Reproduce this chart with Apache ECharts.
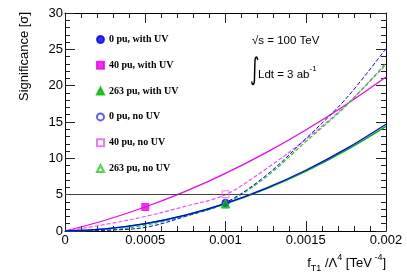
<!DOCTYPE html>
<html><head><meta charset="utf-8">
<script src="https://cdn.jsdelivr.net/npm/echarts@6/dist/echarts.min.js"></script>
<style>html,body{margin:0;padding:0;background:#fff}#c{width:407px;height:276px}</style>
</head><body><div id="c"></div>
<script>
// x values (f_T1/Lambda^4 in TeV^-4)
const fValues   = [0, 0.00025, 0.0005, 0.00075, 0.001, 0.00125, 0.0015, 0.00175, 0.002];
// significance curves
const pu0UV     = [0, 0.28, 1.0, 2.18, 3.8, 5.86, 8.36, 11.3, 14.7];
const pu263UV   = [0, 0.29, 1.01, 2.17, 3.75, 5.77, 8.21, 11.09, 14.4];
const pu40UV    = [0, 1.48, 3.3, 5.45, 7.93, 10.75, 13.9, 17.39, 21.2];
const pu0NoUV   = [0, 0.1, 0.5, 2.0, 3.9, 7.6, 12.7, 18.2, 25.1];
const pu40NoUV  = [0, 0.9, 2.0, 3.4, 5.0, 8.5, 12.6, 17.3, 22.9];
const pu263NoUV = [0, 0.1, 0.8, 2.1, 3.8, 7.4, 12.3, 17.2, 23.1];
// marker points
const legendNames = ['0 pu, with UV', '40 pu, with UV', '263 pu, with UV', '0 pu, no UV', '40 pu, no UV', '263 pu, no UV'];
const markerX = [0.001, 0.0005, 0.001, 0.001, 0.001, 0.001];
const markerY = [3.85, 3.3, 3.7, 3.9, 5.05, 3.8];
const thresholdY = 5;
const xTickLabels = ['0', '0.0005', '0.001', '0.0015', '0.002'];
const yTickLabels = ['0', '5', '10', '15', '20', '25', '30'];

const BLUE = '#0000ff', MAG = '#ee00ee', GRN = '#00b400', GRN2 = '#22cc22';
const pairs = arr => fValues.map((f, i) => [f, arr[i]]);

const chart = echarts.init(document.getElementById('c'));
const tickStyle = {color: '#222', width: 1};
function xAx(pos, showLabel) {
  return {
    type: 'value', min: 0, max: 0.002, interval: 0.0005, position: pos,
    axisLine: {show: true, onZero: false, lineStyle: {color: '#000', width: 1}},
    axisTick: {show: true, inside: true, length: 10, lineStyle: tickStyle},
    minorTick: {show: true, splitNumber: 5, length: 5, lineStyle: tickStyle},
    splitLine: {show: false},
    axisLabel: {show: showLabel, margin: 3, fontSize: 13, fontFamily: 'Liberation Sans', color: '#000',
      showMinLabel: true, showMaxLabel: true, formatter: (v, i) => xTickLabels[i]}
  };
}
function yAx(pos, showLabel) {
  return {
    type: 'value', min: 0, max: 30, interval: 5, position: pos,
    axisLine: {show: true, onZero: false, lineStyle: {color: '#000', width: 1}},
    axisTick: {show: true, inside: true, length: 10, lineStyle: tickStyle},
    minorTick: {show: true, splitNumber: 5, length: 5, lineStyle: tickStyle},
    splitLine: {show: false},
    axisLabel: {show: showLabel, margin: 2, fontSize: 13, fontFamily: 'Liberation Sans', color: '#000',
      formatter: (v, i) => yTickLabels[i]}
  };
}
function curve(data, color, dashed, width, z) {
  return {type: 'line', data: pairs(data), smooth: 0.35, symbol: 'none', silent: true, z: z || 2,
    lineStyle: {color: color, width: width || 1.2, type: dashed ? [4, 2] : 'solid'}};
}
const markerDefs = [
  {symbol: 'circle', size: 7, fill: BLUE, border: BLUE},
  {symbol: 'rect', size: 7, fill: MAG, border: MAG},
  {symbol: 'triangle', size: 8, fill: GRN, border: GRN},
  {symbol: 'circle', size: 7, fill: 'rgba(0,0,0,0)', border: '#3333ff'},
  {symbol: 'rect', size: 7, fill: 'rgba(0,0,0,0)', border: '#ee55ee'},
  {symbol: 'triangle', size: 8, fill: 'rgba(0,0,0,0)', border: GRN2}
];
const markerSeries = legendNames.map((n, i) => ({
  type: 'scatter', name: n, data: [[markerX[i], markerY[i]]], symbol: markerDefs[i].symbol,
  symbolSize: markerDefs[i].size, z: 5,
  itemStyle: {color: markerDefs[i].fill, borderColor: markerDefs[i].border, borderWidth: 1}
}));

chart.setOption({
  animation: false,
  grid: {left: 65, right: 21, top: 13, bottom: 45},
  xAxis: [xAx('bottom', true), xAx('top', false)],
  yAxis: [yAx('left', true), yAx('right', false)],
  legend: {
    orient: 'vertical', left: 91, top: 29.5, itemWidth: 7, itemHeight: 7, itemGap: 15.8,
    selectedMode: false,
    textStyle: {fontFamily: 'Liberation Serif', fontWeight: 'bold', fontSize: 10, color: '#000'},
    data: legendNames
  },
  series: [
    Object.assign(curve(pu40UV, MAG, false, 1.2), {
      markLine: {silent: true, symbol: 'none', label: {show: false},
        lineStyle: {color: '#444', width: 1, type: 'solid'}, data: [{yAxis: thresholdY}]}
    }),
    curve(pu40NoUV, '#f050f0', true, 1.2),
    curve(pu263NoUV, GRN2, true, 1.2),
    curve(pu0NoUV, BLUE, true, 1.0),
    curve(pu263UV, GRN, false, 1.5),
    curve(pu0UV, BLUE, false, 1.3, 3)
  ].concat(markerSeries),
  graphic: [
    {type: 'text', x: 24, y: 12, rotation: Math.PI / 2,
      style: {text: 'Significance [σ]', font: '13px "Liberation Sans"', fill: '#000', align: 'right', verticalAlign: 'middle'}},
    {type: 'text', x: 252, y: 41,
      style: {text: '√s = 100 TeV', font: '11.5px "Liberation Sans"', fill: '#000', align: 'left', verticalAlign: 'middle'}},
    {type: 'text', x: 250, y: 71, scaleX: 0.6,
      style: {text: '∫', font: '30px "DejaVu Sans"', fill: '#000', align: 'left', verticalAlign: 'middle'}},
    {type: 'text', x: 258, y: 73,
      style: {text: '{m|Ldt = 3 ab}{s|-1}', fill: '#000', align: 'left', verticalAlign: 'middle',
        rich: {m: {font: '11.5px "Liberation Sans"', fill: '#000', verticalAlign: 'bottom', lineHeight: 16},
               s: {font: '8px "Liberation Sans"', fill: '#000', verticalAlign: 'top', lineHeight: 16}}}},
    {type: 'text', x: 386, y: 263,
      style: {text: '{m|f}{b|T1}{m| /Λ}{t|4}{m| [TeV}{t| -4}{m|]}', fill: '#000', align: 'right', verticalAlign: 'middle',
        rich: {m: {font: '13px "Liberation Sans"', fill: '#000', verticalAlign: 'middle', lineHeight: 20},
               b: {font: '9px "Liberation Sans"', fill: '#000', verticalAlign: 'bottom', lineHeight: 20},
               t: {font: '9px "Liberation Sans"', fill: '#000', verticalAlign: 'top', lineHeight: 20}}}}
  ]
});
</script></body></html>
